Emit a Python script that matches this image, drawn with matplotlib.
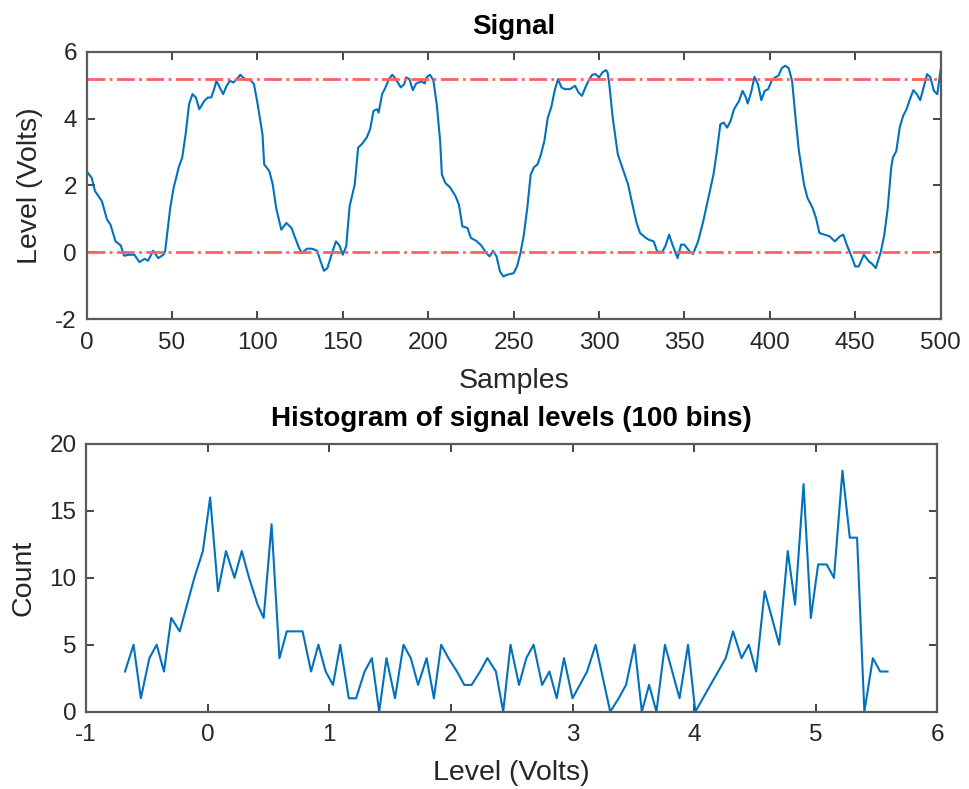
import matplotlib
matplotlib.use('Agg')
import matplotlib.pyplot as plt

# Signal (sample index, volts)
samples = [0, 3, 5, 9, 12, 14, 17, 20, 22, 25, 28, 31, 34, 36, 39, 42, 45, 46, 49, 51,
           54, 56, 58, 60, 62, 64, 66, 69, 71, 73, 75, 76, 78, 80, 82, 84, 86, 88, 90, 92,
           94, 96, 98, 100, 103, 104, 107, 109, 111, 114, 117, 120, 122, 124, 126, 129, 132, 135, 137, 139,
           141, 144, 146, 148, 150, 152, 154, 157, 159, 161, 164, 166, 168, 170, 171, 173, 175, 177, 179, 181,
           184, 186, 187, 189, 191, 193, 196, 198, 199, 201, 203, 205, 207, 208, 210, 213, 216, 218, 220, 223,
           225, 228, 231, 234, 236, 238, 240, 242, 244, 246, 250, 252, 254, 256, 258, 260, 262, 264, 266, 268,
           270, 272, 274, 276, 278, 280, 283, 286, 288, 290, 292, 294, 296, 298, 300, 302, 304, 305, 306, 308,
           311, 314, 317, 320, 322, 324, 327, 329, 332, 334, 337, 339, 341, 343, 346, 348, 350, 353, 355, 358,
           361, 364, 367, 369, 371, 373, 375, 377, 379, 382, 384, 386, 387, 389, 391, 393, 395, 397, 399, 401,
           403, 405, 407, 409, 411, 413, 415, 417, 420, 422, 425, 427, 429, 432, 435, 438, 441, 443, 445, 447,
           450, 452, 455, 458, 460, 462, 465, 467, 469, 471, 472, 474, 476, 478, 480, 482, 484, 486, 488, 490,
           492, 494, 496, 498, 500]
signal = [2.43, 2.23, 1.83, 1.53, 0.98, 0.83, 0.33, 0.21, -0.10, -0.07, -0.07, -0.29, -0.19, -0.25, 0.05, -0.17, -0.07, 0.03, 1.33, 1.93,
          2.55, 2.83, 3.53, 4.43, 4.73, 4.63, 4.28, 4.53, 4.63, 4.63, 4.93, 5.13, 4.93, 4.73, 4.98, 5.13, 5.08, 5.18, 5.31, 5.21,
          5.15, 5.15, 5.03, 4.48, 3.53, 2.63, 2.43, 2.03, 1.33, 0.68, 0.88, 0.73, 0.45, 0.18, -0.02, 0.11, 0.11, 0.05, -0.27, -0.55,
          -0.47, 0.03, 0.33, 0.21, -0.07, 0.18, 1.38, 2.03, 3.13, 3.23, 3.43, 3.68, 4.23, 4.28, 4.18, 4.73, 4.93, 5.18, 5.31, 5.18,
          4.93, 5.03, 5.23, 5.18, 4.85, 5.05, 5.11, 5.05, 5.23, 5.31, 5.15, 4.43, 3.33, 2.33, 2.08, 1.93, 1.68, 1.43, 0.78, 0.73,
          0.43, 0.35, 0.21, -0.02, -0.12, 0.05, -0.12, -0.57, -0.72, -0.67, -0.62, -0.42, -0.02, 0.53, 1.33, 2.33, 2.55, 2.63, 2.93, 3.33,
          4.03, 4.33, 4.83, 5.18, 4.93, 4.88, 4.88, 4.98, 4.78, 4.68, 4.93, 5.15, 5.31, 5.33, 5.23, 5.38, 5.45, 5.38, 5.03, 4.03,
          2.93, 2.48, 2.03, 1.33, 0.88, 0.58, 0.45, 0.38, 0.33, 0.03, 0.01, 0.21, 0.53, 0.23, -0.17, 0.23, 0.23, 0.03, -0.05, 0.33,
          0.93, 1.63, 2.33, 3.03, 3.83, 3.88, 3.73, 3.93, 4.28, 4.53, 4.83, 4.63, 4.45, 4.78, 5.25, 5.03, 4.55, 4.83, 4.88, 5.13,
          5.23, 5.28, 5.51, 5.58, 5.51, 5.13, 4.03, 3.03, 2.03, 1.63, 1.33, 1.03, 0.58, 0.53, 0.48, 0.33, 0.48, 0.53, 0.23, -0.02,
          -0.42, -0.42, -0.07, -0.27, -0.35, -0.47, 0.03, 0.53, 1.33, 2.53, 2.83, 3.03, 3.73, 4.08, 4.28, 4.58, 4.85, 4.73, 4.55, 4.93,
          5.33, 5.23, 4.83, 4.73, 5.48]

low_level = 0.0
high_level = 5.18

# Histogram vertices (bin centre, count)
levels = [-0.68, -0.61, -0.55, -0.48, -0.42, -0.36, -0.30, -0.23, -0.17, -0.11, -0.04, 0.02, 0.085, 0.15, 0.22, 0.28, 0.34, 0.41, 0.46, 0.525,
          0.59, 0.65, 0.72, 0.78, 0.85, 0.91, 0.97, 1.03, 1.09, 1.16, 1.22, 1.29, 1.35, 1.41, 1.47, 1.54, 1.61, 1.67, 1.73, 1.80,
          1.86, 1.92, 1.98, 2.05, 2.11, 2.17, 2.24, 2.30, 2.37, 2.43, 2.49, 2.56, 2.62, 2.68, 2.75, 2.81, 2.87, 2.93, 3.00, 3.06,
          3.12, 3.19, 3.25, 3.31, 3.38, 3.44, 3.51, 3.57, 3.63, 3.69, 3.76, 3.82, 3.88, 3.95, 4.01, 4.26, 4.32, 4.39, 4.45, 4.51,
          4.58, 4.64, 4.70, 4.77, 4.83, 4.90, 4.96, 5.02, 5.09, 5.15, 5.22, 5.28, 5.34, 5.40, 5.47, 5.53, 5.59]
counts = [3, 5, 1, 4, 5, 3, 7, 6, 8, 10, 12, 16, 9, 12, 10, 12, 10, 8, 7, 14,
          4, 6, 6, 6, 3, 5, 3, 2, 5, 1, 1, 3, 4, 0, 4, 1, 5, 4, 2, 4,
          1, 5, 4, 3, 2, 2, 3, 4, 3, 0, 5, 2, 4, 5, 2, 3, 1, 4, 1, 2,
          3, 5, 2.5, 0, 1, 2, 5, 0, 2, 0, 5, 3, 1, 5, 0, 4, 6, 4, 5, 3,
          9, 7, 5, 12, 8, 17, 7, 11, 11, 10, 18, 13, 13, 0, 4, 3, 3]

plt.rcParams['font.family'] = ['Liberation Sans', 'DejaVu Sans']
plt.rcParams['axes.unicode_minus'] = False
dark = '#262626'
blue = '#0072BD'


def style(ax):
    ax.tick_params(direction='in', top=True, right=True, labelsize=17.5,
                   colors=dark, length=6, width=1.2)
    ax.tick_params(axis='x', pad=9)
    ax.tick_params(axis='y', pad=7)
    for s in ax.spines.values():
        s.set_color('#5a5a5a')
        s.set_linewidth(1.6)


fig = plt.figure(figsize=(9.7, 7.89), dpi=100)

ax1 = fig.add_axes([0.0892, 0.5953, 0.8806, 0.3392])
ax1.plot(samples, signal, color=blue, lw=1.5)
ax1.axhline(low_level, color='#FF6060', ls='-.', lw=2)
ax1.axhline(high_level, color='#FF6060', ls='-.', lw=2)
ax1.set_xlim(0, 500)
ax1.set_ylim(-2, 6)
ax1.set_xticks(range(0, 501, 50))
ax1.set_yticks(range(-2, 7, 2))
ax1.set_title('Signal', fontsize=20, fontweight='bold', pad=13)
ax1.set_xlabel('Samples', fontsize=20.5, color=dark, labelpad=10)
ax1.set_ylabel('Level (Volts)', fontsize=20.5, color=dark, labelpad=9)
style(ax1)

ax2 = fig.add_axes([0.0888, 0.098, 0.8775, 0.3393])
ax2.plot(levels, counts, color=blue, lw=1.5)
ax2.set_xlim(-1, 6)
ax2.set_ylim(0, 20)
ax2.set_xticks(range(-1, 7))
ax2.set_yticks(range(0, 21, 5))
ax2.set_title('Histogram of signal levels (100 bins)', fontsize=20, fontweight='bold', pad=13)
ax2.set_xlabel('Level (Volts)', fontsize=20.5, color=dark, labelpad=10)
ax2.set_ylabel('Count', fontsize=20.5, color=dark, labelpad=9)
style(ax2)

fig.savefig('out.png', dpi=100)
